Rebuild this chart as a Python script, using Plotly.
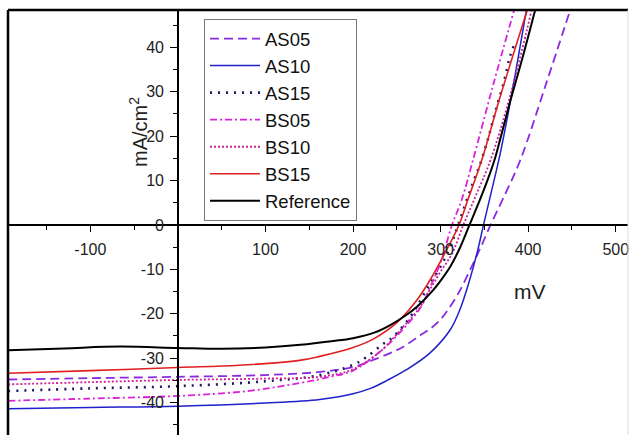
import plotly.graph_objects as go

# ---------------- data ----------------
as05_v = [-194, -100, 0, 100, 162, 200, 223, 250, 261, 277, 288, 299, 307, 320, 334, 347, 357, 371, 391, 420, 448]
as05_j = [-34.8, -34.5, -34.2, -33.8, -33.1, -32.0, -30.4, -28.2, -27.0, -24.8, -23.4, -21.5, -19.5, -15.5, -10.0, -4.5, 0.0, 5.8, 14.6, 31.5, 48.4]

as10_v = [-194, -100, 0, 100, 162, 200, 220, 239, 261, 288, 311, 322, 333, 342, 349, 358, 368, 378, 388, 398]
as10_j = [-41.4, -41.1, -40.8, -40.1, -39.3, -38.0, -36.8, -35.0, -32.6, -28.8, -23.6, -19.1, -12.5, -6.0, 0.0, 7.5, 16.0, 26.0, 37.0, 48.4]

as15_v = [-194, -100, 0, 100, 162, 200, 215, 233, 246, 267, 274, 286, 301, 311, 320, 339, 344, 352, 356, 363, 373, 379, 384]
as15_j = [-37.4, -36.8, -36.3, -35.2, -33.8, -31.5, -29.8, -27.0, -25.2, -20.3, -18.0, -13.9, -9.0, -4.9, 0.0, 10.6, 13.0, 18.0, 20.7, 25.9, 32.7, 37.8, 40.5]

bs05_v = [-194, -100, 0, 80, 139, 174, 200, 231, 257, 277, 288, 300, 313, 324, 337, 360, 384]
bs05_j = [-39.6, -39.1, -38.5, -37.4, -35.6, -34.2, -32.8, -28.5, -23.5, -18.6, -14.0, -8.5, 0.0, 5.6, 14.6, 31.5, 48.4]

bs10_v = [-194, -100, 0, 100, 162, 200, 231, 257, 277, 288, 300, 313, 326, 340, 357, 380, 404]
bs10_j = [-35.9, -35.4, -34.9, -34.6, -34.2, -32.5, -28.5, -23.0, -18.4, -14.5, -10.5, -6.5, 0.0, 6.5, 14.6, 29.5, 48.4]

bs15_v = [-194, -100, 0, 70, 139, 162, 200, 223, 250, 273, 288, 305, 321, 331, 347, 367, 399]
bs15_j = [-33.4, -32.8, -32.1, -31.6, -30.5, -29.6, -27.6, -25.7, -22.0, -16.9, -12.4, -6.3, 0.0, 5.6, 14.6, 28.2, 48.4]

ref_v = [-194, -130, -66, 0, 50, 100, 140, 175, 200, 225, 242, 260, 273, 290, 299, 311, 322, 333, 346, 354, 362, 369, 379, 394, 408]
ref_j = [-28.2, -27.8, -27.4, -27.7, -27.9, -27.6, -27.0, -26.2, -25.5, -24.2, -22.6, -20.4, -18.4, -15.0, -12.8, -9.4, -5.2, 0.0, 6.2, 10.3, 14.9, 20.0, 27.5, 38.0, 48.4]

series = [
    ("AS05", as05_v, as05_j, "#8A2BE2", 1.8, "9px,5px"),
    ("AS10", as10_v, as10_j, "#2020CC", 1.5, "solid"),
    ("AS15", as15_v, as15_j, "#1A1A66", 2.6, "2px,6px"),
    ("BS05", bs05_v, bs05_j, "#DD22DD", 1.8, "7px,3px,2px,3px"),
    ("BS10", bs10_v, bs10_j, "#CC2299", 1.8, "2px,2px"),
    ("BS15", bs15_v, bs15_j, "#E02020", 1.6, "solid"),
    ("Reference", ref_v, ref_j, "#000000", 2.0, "solid"),
]

x_ticks = [-100, 100, 200, 300, 400, 500]
y_ticks = [-40, -30, -20, -10, 0, 10, 20, 30, 40]

x_range = [-194, 514]
y_range = [-47.3, 48.4]

FONT = "Liberation Sans, Arial, sans-serif"

fig = go.Figure()
for i, (name, v, j, col, w, dash) in enumerate(series):
    fig.add_trace(go.Scatter(
        x=v, y=j, name=name, mode="lines",
        line=dict(color=col, width=w, dash=dash, shape="spline", smoothing=1.0),
    ))

xpos = (0 - y_range[0]) / (y_range[1] - y_range[0])
ypos = (0 - x_range[0]) / (x_range[1] - x_range[0])

fig.update_layout(
    template="none",
    width=630, height=435,
    margin=dict(l=8, r=2, t=10, b=0, autoexpand=False),
    paper_bgcolor="white", plot_bgcolor="white",
    font=dict(family=FONT, color="#222222"),
    showlegend=True,
    legend=dict(
        x=(204 - 8) / 620, y=1 - (19 - 10) / 425, xanchor="left", yanchor="top",
        bordercolor="#777777", borderwidth=1, bgcolor="white",
        font=dict(size=18.5, family=FONT, color="#111111"),
        traceorder="normal", itemwidth=50,
    ),
    xaxis=dict(
        range=x_range, anchor="free", position=xpos, automargin=False,
        showgrid=False, zeroline=False,
        showline=True, linecolor="black", linewidth=1.5,
        tickmode="array", tickvals=x_ticks, ticktext=[str(t) for t in x_ticks],
        ticks="outside", ticklen=6, tickwidth=1.3, tickcolor="black",
        ticklabelstandoff=4,
        tickfont=dict(size=16, family=FONT, color="#222222"),
        minor=dict(ticks="outside", dtick=50, tick0=0, ticklen=4, tickwidth=1.2, tickcolor="black"),
    ),
    yaxis=dict(
        range=y_range, anchor="free", position=ypos, automargin=False,
        showgrid=False, zeroline=False,
        showline=True, linecolor="black", linewidth=1.5,
        tickmode="array", tickvals=y_ticks, ticktext=[str(t) for t in y_ticks],
        ticks="outside", ticklen=7, tickwidth=1.3, tickcolor="black",
        ticklabelstandoff=3,
        tickfont=dict(size=16, family=FONT, color="#222222"),
        minor=dict(ticks="outside", dtick=5, tick0=0, ticklen=4, tickwidth=1.2, tickcolor="black"),
    ),
    shapes=[
        dict(type="line", xref="paper", yref="paper", x0=0, x1=0, y0=0, y1=1,
             line=dict(color="black", width=2.5)),
        dict(type="line", xref="paper", yref="paper", x0=0, x1=1, y0=1, y1=1,
             line=dict(color="black", width=2.5)),
        dict(type="line", xref="paper", yref="paper", x0=1, x1=1, y0=0, y1=1,
             line=dict(color="#dddddd", width=1)),
    ],
    annotations=[
        dict(text="mA/cm<sup>2</sup>", xref="paper", yref="paper",
             x=(138 - 8) / 620, y=1 - (132 - 10) / 425, showarrow=False,
             xanchor="center", yanchor="middle",
             textangle=-90, font=dict(size=20, family=FONT, color="#222222")),
        dict(text="mV", xref="paper", yref="paper",
             x=(530 - 8) / 620, y=1 - (291 - 10) / 425, showarrow=False,
             xanchor="center", yanchor="middle",
             font=dict(size=21, family=FONT, color="#222222")),
    ],
)

fig.write_html(
    "out.html",
    config={"displayModeBar": False},
    post_script="document.body.style.margin='0';document.body.style.padding='0';",
)
